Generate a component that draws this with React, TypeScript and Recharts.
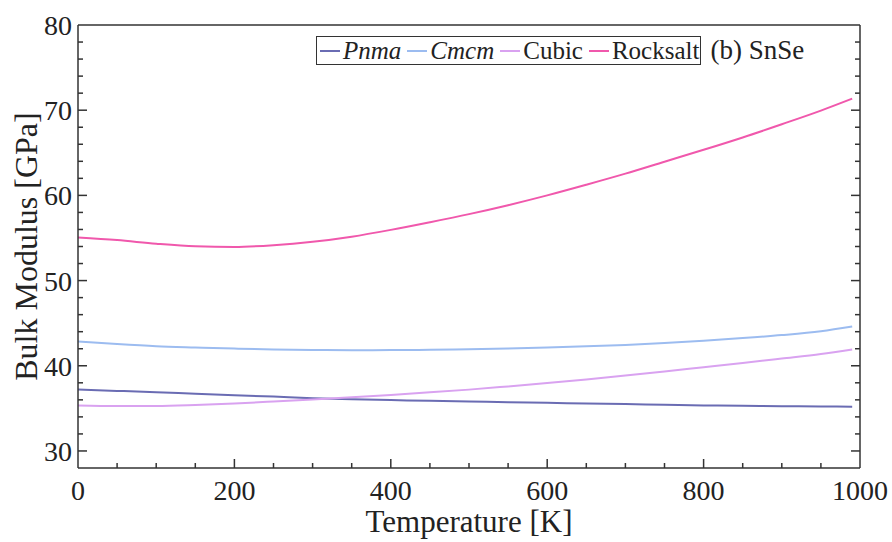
import { LineChart, Line, XAxis, YAxis, Legend } from "recharts"

const temps = [0, 50, 100, 150, 200, 250, 300, 350, 400, 450, 500, 550, 600, 650, 700, 750, 800, 850, 900, 950, 990]
const pnma = [37.2, 37.05, 36.9, 36.72, 36.55, 36.38, 36.2, 36.08, 35.98, 35.88, 35.8, 35.72, 35.65, 35.57, 35.5, 35.42, 35.35, 35.3, 35.25, 35.22, 35.2]
const cmcm = [42.85, 42.55, 42.3, 42.15, 42.02, 41.92, 41.86, 41.83, 41.84, 41.88, 41.95, 42.03, 42.14, 42.28, 42.45, 42.68, 42.95, 43.25, 43.6, 44.05, 44.6]
const cubic = [35.35, 35.27, 35.28, 35.4, 35.58, 35.8, 36.04, 36.3, 36.58, 36.88, 37.2, 37.58, 37.98, 38.4, 38.85, 39.33, 39.83, 40.33, 40.85, 41.38, 41.9]
const rocksalt = [55.05, 54.75, 54.32, 54.02, 53.95, 54.15, 54.55, 55.15, 55.95, 56.85, 57.8, 58.85, 60.0, 61.25, 62.55, 63.95, 65.35, 66.8, 68.35, 69.95, 71.35]

// every 50 K gets a tick mark, labels only on the multiples of 200
const xTicks = [0, 50, 100, 150, 200, 250, 300, 350, 400, 450, 500, 550, 600, 650, 700, 750, 800, 850, 900, 950, 1000]
const xLabelStep = 200
// every 2 GPa gets a tick mark, labels only on the multiples of 10
const yTicks = [28, 30, 32, 34, 36, 38, 40, 42, 44, 46, 48, 50, 52, 54, 56, 58, 60, 62, 64, 66, 68, 70, 72, 74, 76, 78, 80]
const yLabelStep = 10

const series = [
  { key: "pnma", name: "Pnma", values: pnma, color: "#6a6cb3" },
  { key: "cmcm", name: "Cmcm", values: cmcm, color: "#9cbcf0" },
  { key: "cubic", name: "Cubic", values: cubic, color: "#d9a2f0" },
  { key: "rocksalt", name: "Rocksalt", values: rocksalt, color: "#f058ac" },
]
const italicNames = ["Pnma", "Cmcm"]

const data = temps.map((T, i) => {
  const row: Record<string, number> = { T }
  series.forEach((s) => (row[s.key] = s.values[i]))
  return row
})

const FONT = '"Liberation Serif", "Times New Roman", serif'
const AXIS = "#333"
const TEXT = "#222"
const MAJOR = 9
const MINOR = 5

// inward tick marks drawn from the axis position handed over by recharts
function BottomTick({ x, y, payload }: any) {
  const v = payload.value
  const major = v % xLabelStep === 0
  const edge = v === 0 || v === 1000
  return (
    <g>
      {!edge && <line x1={x} x2={x} y1={y} y2={y - (major ? MAJOR : MINOR)} stroke={AXIS} strokeWidth={1.5} />}
      {major && (
        <text x={x} y={y + 32} textAnchor="middle" fontSize={28} fontFamily={FONT} fill={TEXT}>
          {v}
        </text>
      )}
    </g>
  )
}

function TopTick({ x, y, payload }: any) {
  const v = payload.value
  if (v === 0 || v === 1000) return <g />
  const major = v % xLabelStep === 0
  return <line x1={x} x2={x} y1={y} y2={y + (major ? MAJOR : MINOR)} stroke={AXIS} strokeWidth={1.5} />
}

function LeftTick({ x, y, payload }: any) {
  const v = payload.value
  const major = v % yLabelStep === 0
  const edge = v === 28 || v === 80
  return (
    <g>
      {!edge && <line x1={x} x2={x + (major ? MAJOR : MINOR)} y1={y} y2={y} stroke={AXIS} strokeWidth={1.5} />}
      {major && (
        <text x={x - 6} y={y + 10} textAnchor="end" fontSize={28} fontFamily={FONT} fill={TEXT}>
          {v}
        </text>
      )}
    </g>
  )
}

function RightTick({ x, y, payload }: any) {
  const v = payload.value
  if (v === 28 || v === 80) return <g />
  const major = v % yLabelStep === 0
  return <line x1={x} x2={x - (major ? MAJOR : MINOR)} y1={y} y2={y} stroke={AXIS} strokeWidth={1.5} />
}

function LegendBox() {
  return (
    <div style={{ display: "flex", alignItems: "center", fontFamily: FONT }}>
      <div
        style={{
          display: "flex",
          alignItems: "center",
          border: `1.5px solid ${AXIS}`,
          height: 27,
          padding: "0 0 0 3px",
          fontSize: 25,
          color: TEXT,
          background: "#fff",
        }}
      >
        {series.map((s, i) => (
          <div key={s.key} style={{ display: "flex", alignItems: "center", marginRight: i === series.length - 1 ? 1 : 6 }}>
            <span style={{ display: "inline-block", width: 20, height: 2, background: s.color, marginRight: 3 }} />
            <span style={{ fontStyle: italicNames.includes(s.name) ? "italic" : "normal", lineHeight: "26px" }}>{s.name}</span>
          </div>
        ))}
      </div>
      <span style={{ marginLeft: 9, fontSize: 27, color: TEXT }}>(b) SnSe</span>
    </div>
  )
}

export default function App() {
  return (
    <div style={{ position: "absolute", left: 0, top: 0, width: 892, height: 542, background: "#fff" }}>
      <LineChart width={892} height={542} data={data} margin={{ top: 0, right: 0, bottom: 0, left: 0 }}>
        <XAxis
          xAxisId="x"
          dataKey="T"
          type="number"
          domain={[0, 1000]}
          allowDataOverflow
          ticks={xTicks}
          interval={0}
          height={74}
          tickLine={false}
          tickSize={0}
          tickMargin={0}
          axisLine={{ stroke: AXIS, strokeWidth: 1.5 }}
          tick={<BottomTick />}
          label={{
            content: ({ viewBox }: any) => (
              <text x={viewBox.x + viewBox.width / 2} y={532} textAnchor="middle" fontSize={31} fontFamily={FONT} fill={TEXT}>
                Temperature [K]
              </text>
            ),
          }}
        />
        <XAxis
          xAxisId="top"
          orientation="top"
          type="number"
          domain={[0, 1000]}
          allowDataOverflow
          ticks={xTicks}
          interval={0}
          height={25}
          tickLine={false}
          tickSize={0}
          tickMargin={0}
          axisLine={{ stroke: AXIS, strokeWidth: 1.5 }}
          tick={<TopTick />}
        />
        <YAxis
          yAxisId="y"
          type="number"
          domain={[28, 80]}
          allowDataOverflow
          ticks={yTicks}
          interval={0}
          width={78}
          tickLine={false}
          tickSize={0}
          tickMargin={0}
          axisLine={{ stroke: AXIS, strokeWidth: 1.5 }}
          tick={<LeftTick />}
          label={{
            content: ({ viewBox }: any) => {
              const cx = 26
              const cy = viewBox.y + viewBox.height / 2
              return (
                <text x={cx} y={cy} transform={`rotate(-90, ${cx}, ${cy})`} textAnchor="middle" dominantBaseline="central" fontSize={32} fontFamily={FONT} fill={TEXT}>
                  Bulk Modulus [GPa]
                </text>
              )
            },
          }}
        />
        <YAxis
          yAxisId="right"
          orientation="right"
          type="number"
          domain={[28, 80]}
          allowDataOverflow
          ticks={yTicks}
          interval={0}
          width={32}
          tickLine={false}
          tickSize={0}
          tickMargin={0}
          axisLine={{ stroke: AXIS, strokeWidth: 1.5 }}
          tick={<RightTick />}
        />

        <Legend
          layout="horizontal"
          verticalAlign="middle"
          align="center"
          content={<LegendBox />}
          wrapperStyle={{ position: "absolute", left: 316, top: 35, width: "auto" }}
        />

        {series.map((s) => (
          <Line
            key={s.key}
            xAxisId="x"
            yAxisId="y"
            type="monotone"
            dataKey={s.key}
            name={s.name}
            stroke={s.color}
            strokeWidth={2}
            dot={false}
            activeDot={false}
            isAnimationActive={false}
          />
        ))}
      </LineChart>
    </div>
  )
}
